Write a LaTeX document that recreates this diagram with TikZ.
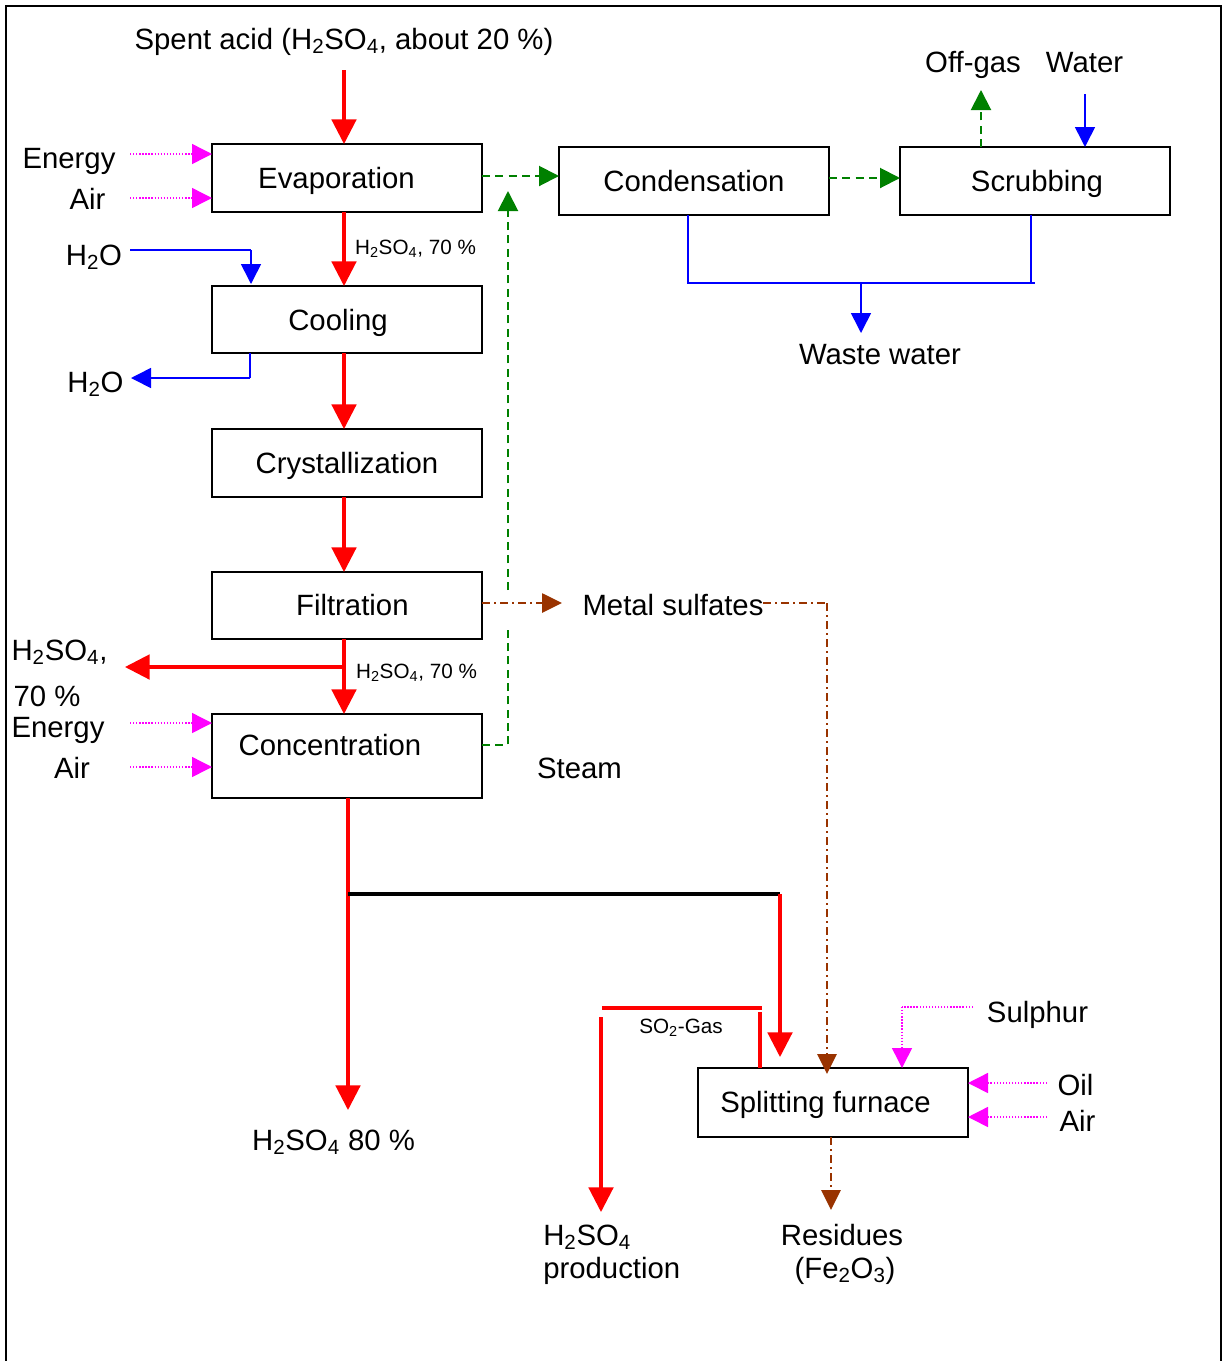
\documentclass[tikz,border=0pt]{standalone}
\usepackage{fontspec}
\setmainfont{Liberation Sans}
\usetikzlibrary{arrows.meta}
\definecolor{ggreen}{RGB}{0,128,0}
\definecolor{bbrown}{RGB}{153,51,0}
\definecolor{mmag}{RGB}{255,0,255}
\newcommand\bigfnt{\fontsize{22}{26}\selectfont}
\newcommand\smlfnt{\fontsize{15.5}{18}\selectfont}
\newcommand\hso{H\textsubscript{2}SO\textsubscript{4}}
\begin{document}
\begin{tikzpicture}[x=0.75pt,y=-0.75pt,
  box/.style={draw, line width=1.1pt, minimum width=202.5pt, minimum height=51pt,
    inner sep=0pt, outer sep=0pt, font=\bigfnt, text height=15.5pt, text depth=0pt},
  lbl/.style={font=\bigfnt, inner sep=0pt, anchor=base},
  sml/.style={font=\smlfnt, inner sep=0pt, anchor=base},
  redline/.style={red, line width=2.3pt},
  redflow/.style={redline, -{Triangle[length=18.5pt,width=18.5pt]}},
  blueline/.style={blue, line width=1.2pt},
  blueflow/.style={blueline, -{Triangle[length=15pt,width=15pt]}},
  greenline/.style={ggreen, line width=1.5pt, dash pattern=on 6pt off 4pt},
  greenflow/.style={greenline, -{Triangle[length=15pt,width=15pt]}},
  magflow/.style={mmag, line width=1.1pt, dash pattern=on 1pt off 1.3pt, -{Triangle[length=15pt,width=15pt]}},
  magline/.style={mmag, line width=1.1pt, dash pattern=on 1pt off 1.3pt},
  brownline/.style={bbrown, line width=1.2pt, dash pattern=on 6pt off 3pt on 1.5pt off 3pt},
  brownflow/.style={brownline, -{Triangle[length=15pt,width=14.5pt]}}
]
\useasboundingbox (0,0) rectangle (1224,1361);
% frame
\draw[line width=1.5pt] (6,1361) -- (6,6) -- (1221,6) -- (1221,1361);

% process boxes
\node[box] (evap) at (347,178) {Evaporation\kern15.75pt};
\node[box, minimum height=50.25pt, text height=16.5pt] (cool) at (347,319.5) {Cooling\kern13.5pt};
\node[box] (cryst) at (347,463) {Crystallization};
\node[box, minimum height=50.25pt] (filt) at (347,605.5) {\kern8pt Filtration};
\node[box, minimum height=63pt, text depth=16pt] (conc) at (347,756) {Concentration\kern25.5pt};
\node[box] (cond) at (694,181) {Condensation};
\node[box] (scrub) at (1035,181) {\kern3pt Scrubbing};
\node[box, minimum height=51.75pt, text height=14.5pt] (furn) at (833,1102.5) {Splitting furnace\kern11.25pt};

% texts
\node[lbl] (spent) at (344,49) {Spent acid (\hso, about 20 \%)};
\node[lbl] (enA) at (69,168) {Energy};
\node[lbl] (airA) at (87.5,209) {Air};
\node[lbl] (h2oA) at (94,265) {H\textsubscript{2}O};
\node[lbl] (h2oB) at (95.5,392) {H\textsubscript{2}O};
\node[sml] (lblA) at (415.5,254) {\hso, 70 \%};
\node[sml] (lblB) at (416.5,678) {\hso, 70 \%};
\node[lbl] (hsoL) at (59.5,660) {\hso,};
\node[lbl] (pctL) at (47,706) {70 \%};
\node[lbl] (enB) at (58,737) {Energy};
\node[lbl] (airB) at (72,778) {Air};
\node[lbl] (steam) at (579.5,778) {Steam};
\node[lbl] (metal) at (673,615) {Metal sulfates};
\node[lbl] (offgas) at (973,72) {Off-gas};
\node[lbl] (water) at (1084.5,72) {Water};
\node[lbl] (waste) at (880,364) {Waste water};
\node[lbl] (p80) at (333.5,1150) {\hso{} 80 \%};
\node[sml] (so2) at (681,1033) {SO\textsubscript{2}-Gas};
\node[lbl] (sulphur) at (1037.5,1022) {Sulphur};
\node[lbl] (oil) at (1075.5,1095) {Oil};
\node[lbl] (airC) at (1077.5,1131) {Air};
\node[lbl, anchor=base west] (prodA) at (543,1245) {\hso};
\node[lbl, anchor=base west] (prodB) at (543,1278) {production};
\node[lbl] (resA) at (842,1245) {Residues};
\node[lbl] (resB) at (845,1278) {(Fe\textsubscript{2}O\textsubscript{3})};

% helper coordinates
\coordinate (sp) at (344,0);
\coordinate (sp2) at (348,0);
\coordinate (sa) at (344,70);
\coordinate (br) at (344,667);
\coordinate (brT) at (125,667);
\coordinate (p80T) at (348,1110);
\coordinate (j1) at (348,894);
\coordinate (j2) at (780,894);
\coordinate (j2T) at (780,1057);
\coordinate (g1) at (602,1008);
\coordinate (g2) at (762,1008);
\coordinate (g3) at (760,1012);
\coordinate (g4) at (601,1017);
\coordinate (g4T) at (601,1212);

% red main flow
\draw[redflow] (sa) -- (sa |- evap.north);
\draw[redflow] (evap.south -| sp) -- (cool.north -| sp);
\draw[redflow] (cool.south -| sp) -- (cryst.north -| sp);
\draw[redflow] (cryst.south -| sp) -- (filt.north -| sp);
\draw[redflow] (filt.south -| sp) -- (conc.north -| sp);
\draw[redflow] (br) -- (brT);
\draw[redflow] (conc.south -| sp2) -- (p80T);
\draw[line width=2.3pt] (j1) -- (j2);
\draw[redflow] (j2) -- (j2T);
\draw[redline] (g1) -- (g2);
\draw[redline] (furn.north -| g3) -- (g3);
\draw[redflow] (g4) -- (g4T);

% energy / air inputs
\draw[magflow] (130,154) -- (evap.west |- 0,154);
\draw[magflow] (130,198) -- (evap.west |- 0,198);
\draw[magflow] (130,723) -- (conc.west |- 0,723);
\draw[magflow] (130,767) -- (conc.west |- 0,767);
\draw[magline] (973,1007) -- (902,1007);
\draw[magflow] (902,1007) -- (furn.north -| 902,0);
\draw[magflow] (1047,1083) -- (furn.east |- 0,1083);
\draw[magflow] (1047,1117) -- (furn.east |- 0,1117);

% water (blue)
\draw[blueline] (130,250) -- (251,250);
\draw[blueflow] (251,250) -- (251,284);
\draw[blueline] (cool.south -| 250,0) -- (250,378);
\draw[blueflow] (250,378) -- (131,378);
\draw[blueline] (cond.south -| 688,0) -- (688,283) -- (1035,283);
\draw[blueline] (scrub.south -| 1031,0) -- (1031,283);
\draw[blueflow] (861,283) -- (861,333);
\draw[blueflow] (1085,94) -- (scrub.north -| 1085,0);

% vapour (green dashed)
\draw[greenflow] (evap.east |- 0,176) -- (cond.west |- 0,176);
\draw[greenflow] (cond.east |- 0,178) -- (scrub.west |- 0,178);
\draw[greenflow] (scrub.north -| 981,0) -- (981,90);
\draw[greenline] (conc.east |- 0,745) -- (508,745) -- (508,628);
\draw[greenflow] (508,590) -- (508,191);

% metal sulfates (brown dash-dot)
\draw[brownflow] (filt.east |- 0,603) -- (562,603);
\draw[brownline] (763,603) -- (827,603);
\draw[brownflow] (827,603) -- (827,1074);
\draw[brownflow] (furn.south -| 831,0) -- (831,1210);
\end{tikzpicture}
\end{document}
